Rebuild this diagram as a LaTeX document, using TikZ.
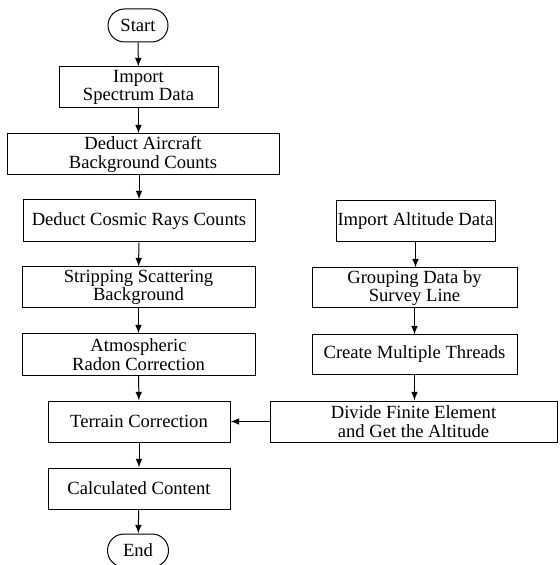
\documentclass[tikz,border=0pt]{standalone}
\usepackage{fontspec}
\setmainfont{Liberation Serif}
\usepackage{tikz}
\usetikzlibrary{shapes.misc}

\begin{document}
\begin{tikzpicture}[x=0.5pt, y=-0.5pt, font=\fontsize{9.3}{9.3}\selectfont, main/.style={draw, rectangle, align=center, inner sep=0pt, line width=0.5pt}, term/.style={draw, rounded rectangle, inner sep=0pt, minimum width=30pt, minimum height=16.5pt, line width=0.5pt}, n/.style={-latex, line width=0.5pt}]
            \useasboundingbox (0,0) rectangle (559,565);
            % nodes
            \node[term] (start) at (138,25.5) {Start};
            \node[main, minimum width=79.5pt, minimum height=20.5pt] (imp) at (138.5,87.5) {Import\\Spectrum Data};
            \node[main, minimum width=136pt, minimum height=20.5pt] (air) at (143,154.5) {Deduct Aircraft\\Background Counts};
            \node[main, minimum width=116pt, minimum height=21pt] (cos) at (139,221) {Deduct Cosmic Rays Counts};
            \node[main, minimum width=116.5pt, minimum height=20.5pt] (strip) at (138.5,287.5) {Stripping Scattering\\Background};
            \node[main, minimum width=116.5pt, minimum height=20.5pt] (radon) at (138.5,354.5) {Atmospheric\\Radon Correction};
            \node[main, minimum width=91pt, minimum height=20.5pt] (ter) at (139,421.5) {Terrain Correction};
            \node[main, minimum width=91pt, minimum height=20.5pt] (calc) at (139,488.5) {Calculated Content};
            \node[term, minimum width=30.5pt] (end) at (138,550.5) {End};
            \node[main, minimum width=79.5pt, minimum height=20.5pt] (alt) at (415.5,221) {Import Altitude Data};
            \node[main, minimum width=102.5pt, minimum height=20pt] (group) at (414.5,288) {Grouping Data by\\Survey Line};
            \node[main, minimum width=102.5pt, minimum height=19.5pt] (thread) at (414.5,354.5) {Create Multiple Threads};
            \node[main, minimum width=143.5pt, minimum height=20.5pt] (divide) at (413.5,421.5) {Divide Finite Element\\and Get the Altitude};
            % edges
            \draw [n] (start) -- (imp);
            \draw [n] (imp) -- (imp |- air.north);
            \draw [n] (air.south -| cos) -- (cos);
            \draw [n] (cos) -- (strip);
            \draw [n] (strip) -- (radon);
            \draw [n] (radon) -- (ter);
            \draw [n] (ter) -- (calc);
            \draw [n] (calc) -- (end);
            \draw [n] (alt) -- (alt |- group.north);
            \draw [n] (group) -- (thread);
            \draw [n] (thread) -- (thread |- divide.north);
            \draw [n] (divide) -- (ter);
        \end{tikzpicture}
\end{document}
